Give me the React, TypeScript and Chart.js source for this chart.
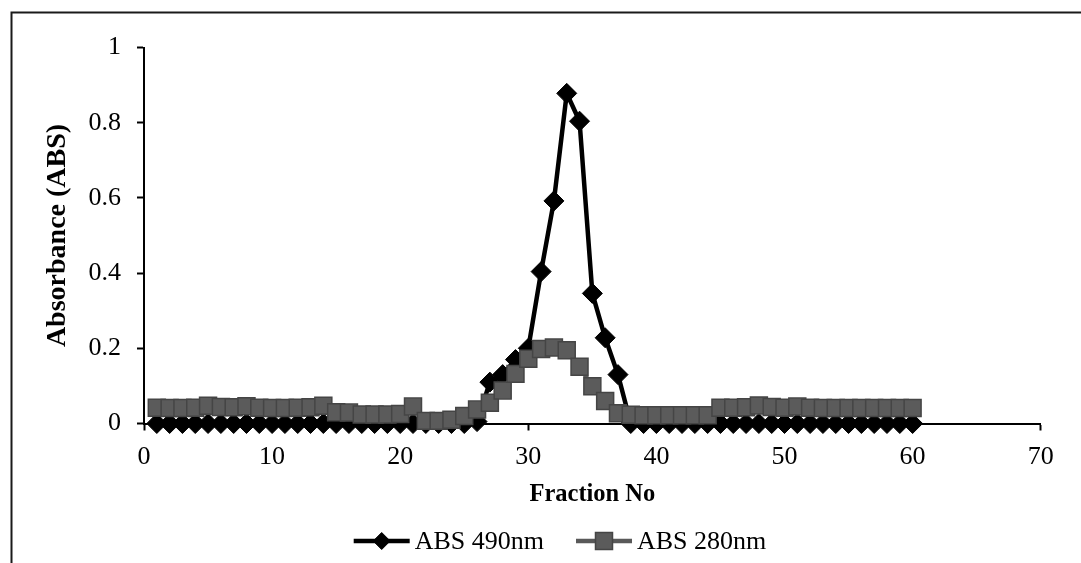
import React, { useEffect, useRef } from "react";
import { Chart, registerables } from "chart.js";

Chart.register(...registerables);

// ---- Data ----
const fractions = [
  1, 2, 3, 4, 5, 6, 7, 8, 9, 10,
  11, 12, 13, 14, 15, 16, 17, 18, 19, 20,
  21, 22, 23, 24, 25, 26, 27, 28, 29, 30,
  31, 32, 33, 34, 35, 36, 37, 38, 39, 40,
  41, 42, 43, 44, 45, 46, 47, 48, 49, 50,
  51, 52, 53, 54, 55, 56, 57, 58, 59, 60,
];

const abs490 = [
  0, 0, 0, 0, 0, 0, 0, 0, 0, 0,
  0, 0, 0, 0, 0, 0, 0, 0, 0, 0,
  0, 0, 0, 0, 0, 0.005, 0.11, 0.13, 0.17, 0.2,
  0.404, 0.592, 0.878, 0.804, 0.346, 0.228, 0.13, 0, 0, 0,
  0, 0, 0, 0, 0, 0, 0, 0, 0, 0,
  0, 0, 0, 0, 0, 0, 0, 0, 0, 0,
];

const abs280 = [
  0.042, 0.041, 0.041, 0.042, 0.047, 0.044, 0.043, 0.046, 0.042, 0.041,
  0.041, 0.042, 0.043, 0.047, 0.03, 0.029, 0.024, 0.024, 0.024, 0.025,
  0.045, 0.007, 0.007, 0.01, 0.02, 0.037, 0.055, 0.088, 0.132, 0.172,
  0.198, 0.202, 0.195, 0.151, 0.099, 0.06, 0.027, 0.023, 0.022, 0.022,
  0.022, 0.022, 0.022, 0.022, 0.042, 0.042, 0.043, 0.048, 0.044, 0.042,
  0.045, 0.042, 0.041, 0.041, 0.041, 0.041, 0.041, 0.041, 0.041, 0.041,
];

const seriesLabels = ["ABS 490nm", "ABS 280nm"];
const xTitle = "Fraction No";
const yTitle = "Absorbance (ABS)";
const xRange = [0, 70];
const xStep = 10;
const yRange = [0, 1];
const yStep = 0.2;

// ---- Styles ----
const FONT = "'Liberation Serif', 'Times New Roman', serif";
const TICK_SIZE = 26;
const X_TITLE_SIZE = 24.5;
const Y_TITLE_SIZE = 28;
const LEGEND_CX = 560;
const LEGEND_CY = 541;

const framePlugin = {
  id: "frame",
  beforeDraw(chart: any) {
    const ctx = chart.ctx;
    ctx.save();
    ctx.fillStyle = "#ffffff";
    ctx.fillRect(0, 0, chart.width, chart.height);
    ctx.strokeStyle = "#1a1a1a";
    ctx.lineWidth = 2;
    ctx.beginPath();
    ctx.moveTo(11.5, chart.height);
    ctx.lineTo(11.5, 12.5);
    ctx.lineTo(chart.width, 12.5);
    ctx.stroke();
    ctx.restore();
  },
};

const legendPlugin = {
  id: "lineLegend",
  afterDraw(chart: any) {
    const ctx = chart.ctx;
    ctx.save();
    ctx.font = `${TICK_SIZE}px ${FONT}`;
    const seg = 56;
    const gap = 5;
    const between = 32;
    const items = chart.data.datasets.map((ds: any) => ({
      ds,
      w: ctx.measureText(ds.label).width,
    }));
    const total =
      items.reduce((s: number, it: any) => s + seg + gap + it.w, 0) +
      between * (items.length - 1);
    let x = LEGEND_CX - total / 2;
    const y = LEGEND_CY;
    items.forEach(({ ds, w }: any) => {
      ctx.strokeStyle = ds.borderColor;
      ctx.lineWidth = ds.borderWidth;
      ctx.beginPath();
      ctx.moveTo(x, y);
      ctx.lineTo(x + seg, y);
      ctx.stroke();
      const cx = x + seg / 2;
      ctx.fillStyle = ds.pointBackgroundColor;
      ctx.strokeStyle = ds.pointBorderColor;
      ctx.lineWidth = ds.pointBorderWidth;
      ctx.beginPath();
      if (ds.pointStyle === "rectRot") {
        const r = 8.5;
        ctx.moveTo(cx - r, y);
        ctx.lineTo(cx, y - r);
        ctx.lineTo(cx + r, y);
        ctx.lineTo(cx, y + r);
        ctx.closePath();
      } else {
        const h = 8.5;
        ctx.rect(cx - h, y - h, 2 * h, 2 * h);
      }
      ctx.fill();
      ctx.stroke();
      ctx.fillStyle = "#000";
      ctx.textBaseline = "middle";
      ctx.textAlign = "left";
      ctx.fillText(ds.label, x + seg + gap, y + 1);
      x += seg + gap + w + between;
    });
    ctx.restore();
  },
};

export default function App() {
  const canvasRef = useRef<HTMLCanvasElement | null>(null);

  useEffect(() => {
    if (!canvasRef.current) return;
    const chart = new Chart(canvasRef.current, {
      type: "line",
      data: {
        datasets: [
          {
            label: seriesLabels[0],
            data: fractions.map((f, i) => ({ x: f, y: abs490[i] })),
            borderColor: "#000000",
            backgroundColor: "#000000",
            borderWidth: 4.5,
            pointStyle: "rectRot",
            pointRadius: 10,
            pointBackgroundColor: "#000000",
            pointBorderColor: "#000000",
            pointBorderWidth: 1,
            order: 1,
            clip: false,
            tension: 0,
          } as any,
          {
            label: seriesLabels[1],
            data: fractions.map((f, i) => ({ x: f, y: abs280[i] })),
            borderColor: "#595959",
            backgroundColor: "#595959",
            borderWidth: 4.5,
            pointStyle: "rect",
            pointRadius: 12,
            pointBackgroundColor: "#5b5b5b",
            pointBorderColor: "#454545",
            pointBorderWidth: 1.5,
            order: 0,
            clip: false,
            tension: 0,
          } as any,
        ],
      },
      options: {
        animation: false,
        responsive: true,
        maintainAspectRatio: false,
        events: [],
        layout: { padding: { left: 35, top: 47.5, right: 40.3, bottom: 54 } },
        plugins: {
          legend: { display: false },
          tooltip: { enabled: false },
        },
        scales: {
          x: {
            type: "linear",
            min: xRange[0],
            max: xRange[1],
            ticks: {
              stepSize: xStep,
              color: "#000",
              padding: 11,
              font: { family: FONT, size: TICK_SIZE },
              maxRotation: 0,
            },
            grid: {
              display: true,
              drawOnChartArea: false,
              drawTicks: true,
              tickLength: 7,
              tickWidth: 2,
              tickColor: "#000",
            },
            border: { display: true, color: "#000", width: 2 },
            title: {
              display: true,
              text: xTitle,
              color: "#000",
              font: { family: FONT, size: X_TITLE_SIZE, weight: "bold" },
              padding: { top: 0, bottom: 0 },
            },
            afterFit: (s: any) => {
              s.height = 85.5;
            },
          },
          y: {
            type: "linear",
            min: yRange[0],
            max: yRange[1],
            ticks: {
              stepSize: yStep,
              color: "#000",
              padding: 16,
              font: { family: FONT, size: TICK_SIZE },
              callback: (v: any) => String(Math.round(Number(v) * 10) / 10),
            },
            grid: {
              display: true,
              drawOnChartArea: false,
              drawTicks: true,
              tickLength: 7,
              tickWidth: 2,
              tickColor: "#000",
            },
            border: { display: true, color: "#000", width: 2 },
            title: {
              display: true,
              text: yTitle,
              color: "#000",
              font: { family: FONT, size: Y_TITLE_SIZE, weight: "bold" },
              padding: { top: 6, bottom: 0 },
            },
            afterFit: (s: any) => {
              s.width = 109;
            },
          },
        },
      } as any,
      plugins: [framePlugin, legendPlugin],
    });
    return () => chart.destroy();
  }, []);

  return (
    <div
      style={{
        position: "fixed",
        left: 0,
        top: 0,
        width: "1081px",
        height: "563px",
        background: "#fff",
      }}
    >
      <canvas ref={canvasRef} />
    </div>
  );
}
